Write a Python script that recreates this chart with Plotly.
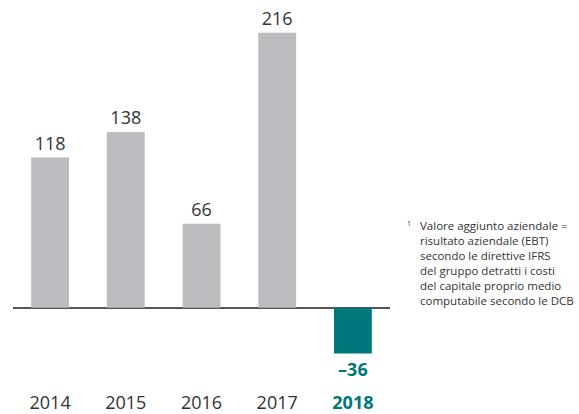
import plotly.graph_objects as go

years = ["2014", "2015", "2016", "2017", "2018"]
values = [118, 138, 66, 216, -36]
bar_colors = ["#BBBCC0", "#BBBCC0", "#BBBCC0", "#BBBCC0", "#00777B"]
footnote_lines = [
    "Valore aggiunto aziendale =",
    "risultato aziendale (EBT)",
    "secondo le direttive IFRS",
    "del gruppo detratti i costi",
    "del capitale proprio medio",
    "computabile secondo le DCB",
]

FONT = "Open Sans"
TEXT = "#333333"
TEAL = "#00777B"

labels = []
label_colors = []
for v in values:
    s = str(v).replace("-", "–")
    if v < 0:
        labels.append(f"<b>{s}</b>")
        label_colors.append(TEAL)
    else:
        labels.append(s)
        label_colors.append(TEXT)

ticktext = []
for y, v in zip(years, values):
    if v < 0:
        ticktext.append(f"<b><span style='color:{TEAL}'>{y}</span></b>")
    else:
        ticktext.append(y)

fig = go.Figure(
    go.Bar(
        x=years,
        y=values,
        marker=dict(color=bar_colors, line=dict(width=0)),
        width=0.5,
        text=labels,
        textposition="outside",
        textfont=dict(family=FONT, size=18, color=label_colors),
        cliponaxis=False,
        hoverinfo="skip",
    )
)

L, R, T, B = 13, 189, 15, 49
W, H = 579, 414

fig.update_layout(
    width=W,
    height=H,
    margin=dict(l=L, r=R, t=T, b=B, autoexpand=False),
    paper_bgcolor="white",
    plot_bgcolor="white",
    showlegend=False,
    font=dict(family=FONT, color=TEXT),
)
fig.update_xaxes(
    range=[-0.49, 4.49],
    tickmode="array",
    tickvals=years,
    ticktext=ticktext,
    tickfont=dict(family=FONT, size=18, color=TEXT),
    showgrid=False,
    showline=False,
    ticks="",
    ticklabelstandoff=25,
    automargin=False,
)
fig.update_yaxes(
    range=[-45, 230],
    showgrid=False,
    showticklabels=False,
    zeroline=True,
    zerolinecolor="#555555",
    zerolinewidth=1.5,
    showline=False,
    automargin=False,
)

def px_to_paper(px, py):
    return (px - L) / (W - L - R), (H - py - B) / (H - T - B)

fx, fy = px_to_paper(418, 216)
fig.add_annotation(
    x=fx, y=fy, xref="paper", yref="paper",
    text="<br>".join(footnote_lines),
    showarrow=False, xanchor="left", yanchor="top", align="left",
    font=dict(family=FONT, size=11.5, color=TEXT),
)
sx, sy = px_to_paper(405, 217)
fig.add_annotation(
    x=sx, y=sy, xref="paper", yref="paper",
    text="1",
    showarrow=False, xanchor="left", yanchor="top",
    font=dict(family=FONT, size=7, color=TEXT),
)

fig.write_html("out.html")
